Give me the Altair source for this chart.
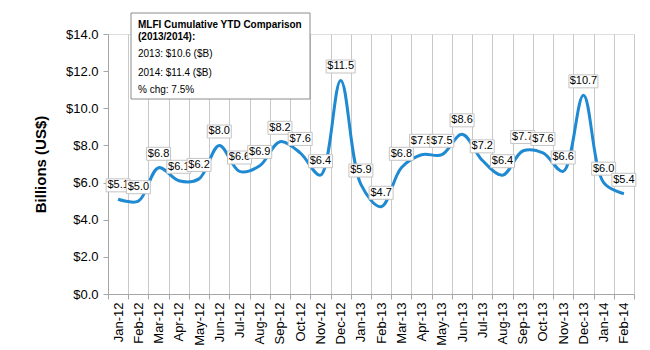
import altair as alt
import pandas as pd

months = ["Jan-12", "Feb-12", "Mar-12", "Apr-12", "May-12", "Jun-12", "Jul-12", "Aug-12",
          "Sep-12", "Oct-12", "Nov-12", "Dec-12", "Jan-13", "Feb-13", "Mar-13", "Apr-13",
          "May-13", "Jun-13", "Jul-13", "Aug-13", "Sep-13", "Oct-13", "Nov-13", "Dec-13",
          "Jan-14", "Feb-14"]
values = [5.1, 5.0, 6.8, 6.1, 6.2, 8.0, 6.6, 6.9, 8.2, 7.6, 6.4, 11.5, 5.9, 4.7, 6.8, 7.5,
          7.5, 8.6, 7.2, 6.4, 7.7, 7.6, 6.6, 10.7, 6.0, 5.4]
y_ticks = [0, 2, 4, 6, 8, 10, 12, 14]
note_lines = ["MLFI Cumulative YTD Comparison", "(2013/2014):", "2013: $10.6 ($B)",
              "2014: $11.4  ($B)", "% chg: 7.5%"]

df = pd.DataFrame({"idx": list(range(len(months))), "month": months, "value": values})
df["label"] = ["$" + f"{v:.1f}" for v in values]

FONT = "Liberation Sans"
GRAY = "#a6a6a6"

x_scale = alt.Scale(paddingInner=0, paddingOuter=0)
y_scale = alt.Scale(domain=[0, 14], nice=False, zero=True)

x_axis = alt.Axis(title=None, labelAngle=270, labelAlign="right", labelBaseline="middle",
                  labelFontSize=13, labelFont=FONT, labelColor="#000000", labelPadding=3,
                  labelOverlap=False, tickBand="extent", grid=True, gridColor="#c9c9c9",
                  gridWidth=1, domainColor=GRAY, tickColor=GRAY, tickSize=5)
y_axis = alt.Axis(values=y_ticks, format="$.1f", grid=False, labelFont=FONT, labelFontSize=13,
                  labelColor="#000000", labelPadding=5, tickColor=GRAY, domainColor=GRAY,
                  tickSize=5, title="Billions (US$)", titleFont=FONT, titleFontSize=15,
                  titleFontWeight="bold", titleColor="#000000", titlePadding=17)

x_enc = alt.X("month:N", sort=months, scale=x_scale, axis=x_axis)

base = alt.Chart(df)

line = base.mark_line(interpolate="catmull-rom", color="#1f8ad2", strokeWidth=3).encode(
    x=x_enc, y=alt.Y("value:Q", scale=y_scale, axis=y_axis)
)

layers = [line]
for i, lab in enumerate(df["label"]):
    w = 24 if len(lab) <= 4 else 29
    box = base.transform_filter(f"datum.idx == {i}").transform_calculate(
        lo="datum.value + 0.40", hi="datum.value + 1.10"
    ).mark_bar(width=w, fill="white", stroke="#c4c4c4", strokeWidth=1).encode(
        x=x_enc, y=alt.Y("lo:Q", scale=y_scale, axis=y_axis), y2="hi:Q"
    )
    txt = base.transform_filter(f"datum.idx == {i}").mark_text(
        dy=-14, font=FONT, fontSize=11, color="#000000", baseline="middle", align="center"
    ).encode(x=x_enc, y=alt.Y("value:Q", scale=y_scale, axis=y_axis), text="label:N")
    layers += [box, txt]

one = alt.Data(values=[{}])
note_box = alt.Chart(one).mark_rect(fill="white", stroke="#8c8c8c", strokeWidth=1).encode(
    x=alt.value(23), x2=alt.value(202), y=alt.value(-21), y2=alt.value(65)
)
layers.append(note_box)
note_y = [-9, 3, 20, 38.5, 56]
for k, t in enumerate(note_lines):
    layers.append(
        alt.Chart(one).mark_text(align="left", baseline="middle", font=FONT, fontSize=10,
                                 fontWeight="bold" if k < 2 else "normal",
                                 color="#000000").encode(
            x=alt.value(30), y=alt.value(note_y[k]), text=alt.value(t)
        )
    )

chart = alt.layer(*layers).properties(
    width=526, height=260,
    padding={"left": 108, "top": 34, "right": 16, "bottom": 56},
    autosize="none",
).configure_view(stroke="transparent").configure(background="white")

chart.save("out.html", embed_options={"renderer": "svg", "actions": False})
